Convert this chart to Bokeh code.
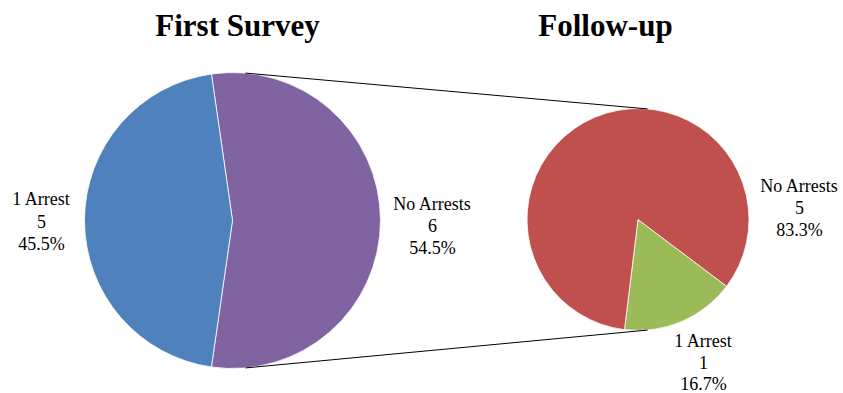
import numpy as np
from bokeh.plotting import figure
from bokeh.models import Range1d, ColumnDataSource
from bokeh.core.properties import value
from bokeh.embed import file_html
from bokeh.resources import INLINE

# ---- data ----
titles = ["First Survey", "Follow-up"]
first_categories = ["No Arrests", "1 Arrest"]
first_counts = [6, 5]
first_colors = ["#8064A2", "#4F81BD"]
follow_categories = ["1 Arrest", "No Arrests"]
follow_counts = [1, 5]
follow_colors = ["#9BBB59", "#C0504D"]

W, H = 843, 393
FONT = "Liberation Serif"


def px(x):
    return x


def py(y):
    return H - y


p = figure(width=W, height=H, x_range=Range1d(0, W), y_range=Range1d(0, H),
           output_backend="svg", toolbar_location=None, min_border=0,
           x_axis_location=None, y_axis_location=None)
p.grid.visible = False
p.outline_line_color = None
p.background_fill_color = "white"
p.border_fill_color = "white"

# layout of the two pies (picture pixel coordinates)
pies = [
    dict(cx=px(232), cy=py(220), r=148, cats=first_categories, vals=first_counts,
         colors=first_colors, start=None),
    dict(cx=px(637.5), cy=py(219), r=111, cats=follow_categories, vals=follow_counts,
         colors=follow_colors, start=np.deg2rad(-97)),
]

for pie in pies:
    vals = np.array(pie["vals"], dtype=float)
    frac = vals / vals.sum()
    start0 = pie["start"] if pie["start"] is not None else -np.pi * frac[0]
    ang = start0 + np.concatenate([[0], np.cumsum(frac)]) * 2 * np.pi
    src = ColumnDataSource(dict(
        x=[pie["cx"]] * len(vals), y=[pie["cy"]] * len(vals),
        start=ang[:-1], end=ang[1:], color=pie["colors"]))
    p.wedge(x="x", y="y", radius=pie["r"], start_angle="start", end_angle="end",
            fill_color="color", line_color="white", line_width=0.8, source=src)

# connector lines
a = np.deg2rad(85)
L, R = pies
for sgn in (1, -1):
    p.line([L["cx"] + L["r"] * np.cos(a), R["cx"] + R["r"] * np.cos(a)],
           [L["cy"] + sgn * L["r"] * np.sin(a), R["cy"] + sgn * R["r"] * np.sin(a)],
           line_color="black", line_width=1)

# titles
p.text(x=[px(237), px(605)], y=[py(25), py(25)], text=titles,
       text_font=value(FONT), text_font_style="bold", text_font_size="31px",
       text_align="center", text_baseline="alphabetic", text_color="black")

# data labels
label_pos = {
    ("first", "1 Arrest"): (41, 198, 22.5),
    ("first", "No Arrests"): (432, 203, 22),
    ("follow", "No Arrests"): (799, 185, 22),
    ("follow", "1 Arrest"): (703, 340, 21.5),
}
lx, ly, lt = [], [], []
for key, cats, vals in (("first", first_categories, first_counts),
                        ("follow", follow_categories, follow_counts)):
    total = sum(vals)
    for c, v in zip(cats, vals):
        x0, y0, dy = label_pos[(key, c)]
        lines = [c, str(v), f"{100 * v / total:.1f}%"]
        for i, t in enumerate(lines):
            lx.append(px(x0))
            ly.append(py(y0 + i * dy))
            lt.append(t)
p.text(x=lx, y=ly, text=lt, text_font=value(FONT), text_font_size="18px",
       text_align="center", text_baseline="alphabetic", text_color="black")

open("out.html", "w").write(file_html(p, INLINE))
